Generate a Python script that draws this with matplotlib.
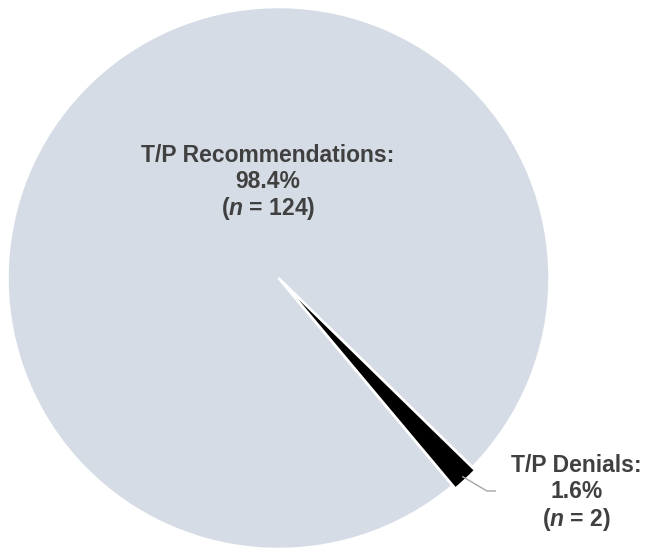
import numpy as np
import matplotlib
matplotlib.use("Agg")
from matplotlib import pyplot as plt

# donnees
categories = ["T/P Recommendations", "T/P Denials"]
counts = [124, 2]
couleurs = ["#D6DCE5", "#000000"]

plt.rcParams['font.family'] = ['Liberation Sans', 'DejaVu Sans']
plt.rcParams['mathtext.fontset'] = 'custom'
plt.rcParams['mathtext.bfit'] = 'Liberation Sans:italic:bold'

fig = plt.figure(figsize=(6.5, 5.54), dpi=100)
ax = fig.add_axes([7.5/650, 5/554, 542/650, 542/554])

start = -44.3
wedges, _ = ax.pie(counts, colors=couleurs, startangle=start, counterclock=True,
                   explode=[0, 0.015],
                   wedgeprops=dict(edgecolor='white', linewidth=1.8))
for w in wedges:
    w.set_clip_on(False)
ax.set_xlim(-1, 1)
ax.set_ylim(-1, 1)
ax.set_aspect('equal')
ax.axis('off')

total = sum(counts)
pcts = [100 * c / total for c in counts]
txt_col = '#404040'

# label principal
ax.text(-0.039, 0.35,
        categories[0] + ":\n" + f"{pcts[0]:.1f}%\n" + r"($\mathbfit{n}$ = " + f"{counts[0]})",
        ha='center', va='center', fontsize=16.5, fontweight='bold', color=txt_col,
        linespacing=1.15)

# label petite part + ligne de rappel
theta = np.deg2rad(start + 360 * (counts[0] + counts[1] / 2) / total)
x0, y0 = np.cos(theta) * 1.0, np.sin(theta) * 1.0
ax.plot([x0, 0.769, 0.80], [y0, -0.786, -0.786], color='#A6A6A6', lw=1, clip_on=False)
ax.text(1.10, -0.795,
        categories[1] + ":\n" + f"{pcts[1]:.1f}%\n" + r"($\mathbfit{n}$ = " + f"{counts[1]})",
        ha='center', va='center', fontsize=16.5, fontweight='bold', color=txt_col,
        linespacing=1.15)

fig.savefig("out.png", dpi=100)
